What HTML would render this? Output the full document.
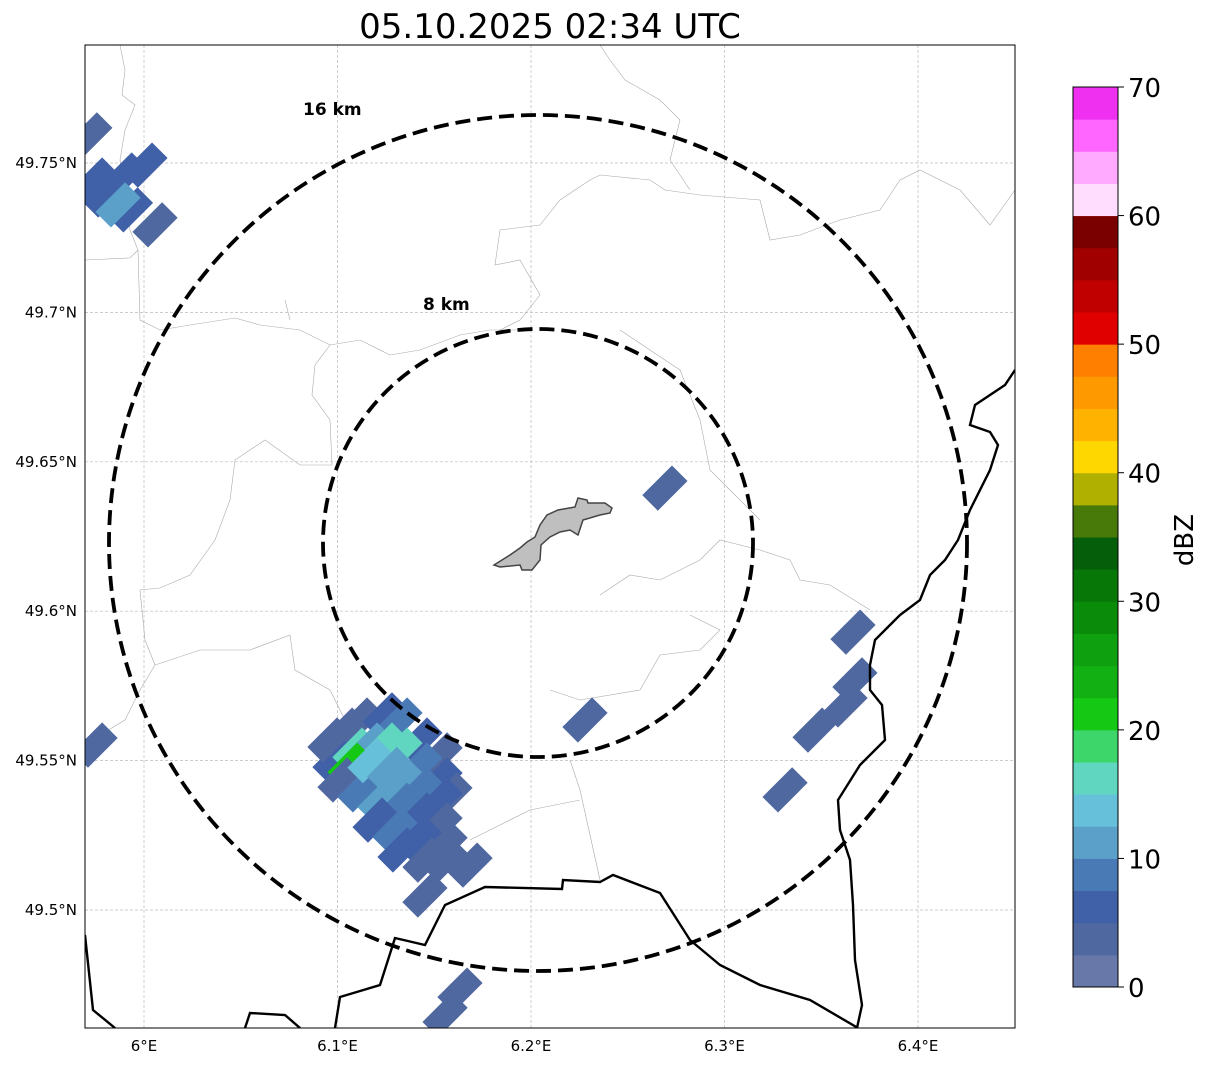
<!DOCTYPE html>
<html><head><meta charset="utf-8"><style>
body{margin:0;background:#fff;}
svg text{font-family:"DejaVu Sans","Liberation Sans",sans-serif;}
</style></head><body>
<svg width="1207" height="1064" viewBox="0 0 1207 1064" xmlns="http://www.w3.org/2000/svg">
<defs><clipPath id="mapclip"><rect x="85" y="45" width="930" height="983"/></clipPath></defs>
<text x="550" y="38" font-size="34" text-anchor="middle">05.10.2025 02:34 UTC</text>
<g id="map" clip-path="url(#mapclip)"></g>
<rect x="85" y="45" width="930" height="983" fill="none" stroke="#000" stroke-width="1"/>
<g id="ticks"></g>
<g id="cbar"></g>
<text transform="translate(1193,540) rotate(-90)" font-size="26" text-anchor="middle">dBZ</text>
</svg>
<script>
const NS="http://www.w3.org/2000/svg";
const lonTicks=[6.0,6.1,6.2,6.3,6.4];
const lonLabels=["6°E","6.1°E","6.2°E","6.3°E","6.4°E"];
const latTicks=[49.75,49.7,49.65,49.6,49.55,49.5];
const latLabels=["49.75°N","49.7°N","49.65°N","49.6°N","49.55°N","49.5°N"];
const cbTicks=[0,10,20,30,40,50,60,70];
const cbColors=["#6878a8","#5068a0","#4060a8","#4a7ab5","#5aa0c8","#66c0d9","#60d6c0","#3dd66b","#14c814","#12b012","#0fa00f","#0a8c0a","#077807","#055e0a","#487a0a","#b0b000","#ffd700","#ffb300","#ff9900","#ff7f00","#e00000","#c00000","#a00000","#7a0000","#ffddff","#ffaaff","#ff66ff","#f030f0"];
const cellLon=[5.972,5.990,6.0005,5.980,5.993,5.9866,6.0057,5.9747,5.9747,6.2692,6.3664,6.3674,6.3623,6.3468,6.3313,6.2279,6.1633,6.1556,6.1685,6.1452,
6.1039,6.1116,6.1245,6.1323,6.1426,6.1530,6.0987,6.1090,6.1168,6.1245,6.1323,6.1426,6.1530,6.1581,6.1065,6.1142,6.1220,6.1323,6.1426,6.1530,6.1013,6.1116,6.1220,6.1323,6.1426,6.1530,6.1194,6.1297,6.1426,6.1556,6.1323,6.1452,6.1556,6.0961,6.1168,6.1270];
const cellLat=[49.7594,49.746,49.7493,49.7393,49.7343,49.736,49.7293,49.7443,49.5552,49.6412,49.593,49.577,49.5686,49.5602,49.5402,49.5636,49.4732,49.4649,49.515,49.505,
49.5602,49.5636,49.5653,49.5636,49.5569,49.5519,49.5502,49.5535,49.5552,49.5552,49.5535,49.5485,49.5435,49.5385,49.5485,49.5469,49.5452,49.5435,49.5402,49.5368,49.5435,49.5402,49.5368,49.5351,49.5318,49.5284,49.5301,49.5268,49.5234,49.5218,49.5201,49.5167,49.5167,49.5569,49.5500,49.5470];
const cellDbz=[3,5,5,5,5,12,3,5,3,3,3,3,3,3,3,3,3,3,3,3,
3,3,5,8,5,3,5,15,12,17,15,8,5,3,22,17,12,10,8,5,3,8,10,8,5,3,5,8,5,3,5,3,3,3,14,10];
const X=lon=>144+(lon-6.0)*1935, Y=lat=>163+(49.75-lat)*2988;
const CBY=v=>987-v*(900/70);
const map=document.getElementById('map');
function mk(tag,attrs,parent){const e=document.createElementNS(NS,tag);for(const k in attrs)e.setAttribute(k,attrs[k]);parent.appendChild(e);return e;}
lonTicks.forEach(v=>{const l=mk('line',{x1:X(v),x2:X(v),y1:45,y2:1028,stroke:'#bbb','stroke-width':0.7,'stroke-dasharray':'3,2'},map);

});
latTicks.forEach(v=>{const l=mk('line',{x1:85,x2:1015,y1:Y(v),y2:Y(v),stroke:'#bbb','stroke-width':0.7,'stroke-dasharray':'3,2'},map);

});
const thin=["M120,45 L125,70 L122,95 L135,105 L125,130 L120,160 L130,230 L138,250 L130,258 L85,260",
"M138,250 L140,320 L160,330 L190,325 L235,318 L260,325 L300,330 L330,345 L360,340 L390,355 L420,350 L460,335 L490,330 L530,330",
"M330,345 L315,365 L312,395 L330,420 L332,465 L300,465 L265,440 L235,460 L230,500 L215,540 L190,575 L160,588 L140,590 L145,640 L155,665 L140,690 L125,720 L100,735",
"M155,665 L200,650 L250,650 L290,635 L295,670 L330,690 L345,720",
"M500,330 L520,320 L540,295 L520,260 L495,265 L500,230 L540,225 L560,200 L590,180 L600,175 L650,180 L665,190 L700,195 L760,200 L770,240 L800,235 L840,220 L880,210 L900,180 L920,170 L960,190 L990,225 L1015,190",
"M600,45 L610,60 L625,80 L660,100 L680,120 L670,160 L690,190",
"M620,330 L650,350 L680,370 L700,420 L710,470 L730,490 L760,520",
"M600,595 L630,575 L660,580 L700,560 L720,540 L760,550 L790,560 L800,580 L830,585 L870,610",
"M570,760 L580,790 L600,880",
"M580,800 L530,810 L500,825 L470,840",
"M285,300 L290,320",
"M690,615 L720,630 L700,650 L660,655 L640,690 L580,700 L550,690"];
thin.forEach(d=>{const p=mk('path',{d:d,fill:'none',stroke:'#aaa','stroke-width':0.6},map);

});
cellLon.forEach((lon,i)=>{const x=X(lon),y=Y(cellLat[i]);const idx=Math.min(27,Math.floor(cellDbz[i]/2.5));
const r=mk('rect',{x:x-21,y:y-11,width:42,height:22,fill:cbColors[idx],transform:`rotate(-45 ${x} ${y})`},map);

});
const bp=["M1015,370 L1005,385 L975,405 L970,425 L990,432 L998,445 L990,470 L970,510 L958,540 L945,560 L930,575 L920,600 L900,615 L875,640 L870,665 L870,690 L882,705 L885,740 L860,765 L838,800 L840,830 L850,860 L853,905 L855,960 L862,1005 L857,1028",
"M85,935 L93,1010 L115,1028",
"M245,1028 L250,1013 L285,1015 L300,1028",
"M335,1028 L340,997 L380,985 L395,938 L425,945 L445,905 L485,887 L562,889 L563,880 L600,882 L613,875 L660,893 L690,940 L720,965 L760,985 L810,1000 L858,1028"];
bp.forEach(d=>{const p=mk('path',{d:d,fill:'none',stroke:'#000','stroke-width':2.4},map);

});
const city=mk('path',{d:"M494,565 L510,555 L520,548 L527,542 L535,537 L540,525 L547,515 L558,510 L575,507 L578,498 L587,500 L588,503 L605,503 L612,508 L610,513 L600,515 L583,520 L578,535 L570,530 L560,532 L550,537 L541,545 L540,560 L532,570 L522,570 L520,565 L500,567 Z",fill:'#bfbfbf',stroke:'#444','stroke-width':1.5},map);


const c1=mk('ellipse',{cx:538,cy:543,rx:429,ry:428,fill:'none',stroke:'#000','stroke-width':3.8,'stroke-dasharray':'15,7'},map);


const c2=mk('ellipse',{cx:538,cy:543,rx:215,ry:214,fill:'none',stroke:'#000','stroke-width':3.8,'stroke-dasharray':'15,7'},map);


const t1=mk('text',{x:303,y:115,'font-size':17,'font-weight':'bold'},map);t1.textContent='16 km';


const t2=mk('text',{x:423,y:310,'font-size':17,'font-weight':'bold'},map);t2.textContent='8 km';


const tk=document.getElementById('ticks');
lonTicks.forEach((v,i)=>{const t=mk('text',{x:X(v),y:1051,'font-size':15,'text-anchor':'middle'},tk);t.textContent=lonLabels[i];

});
latTicks.forEach((v,i)=>{const t=mk('text',{x:77,y:Y(v)+5,'font-size':15,'text-anchor':'end'},tk);t.textContent=latLabels[i];

});
const cb=document.getElementById('cbar');
cbColors.forEach((c,i)=>{const y1=CBY((i+1)*2.5),y0=CBY(i*2.5);const r=mk('rect',{x:1073,y:y1,width:45,height:y0-y1+0.5,fill:c},cb);

});
const fr=mk('rect',{x:1073,y:87,width:45,height:900,fill:'none',stroke:'#000','stroke-width':1},cb);


cbTicks.forEach(v=>{mk('line',{x1:1118,x2:1124,y1:CBY(v),y2:CBY(v),stroke:'#000'},cb);
const t=mk('text',{x:1128,y:CBY(v)+10,'font-size':26},cb);t.textContent=v;

});
</script>
</body></html>
